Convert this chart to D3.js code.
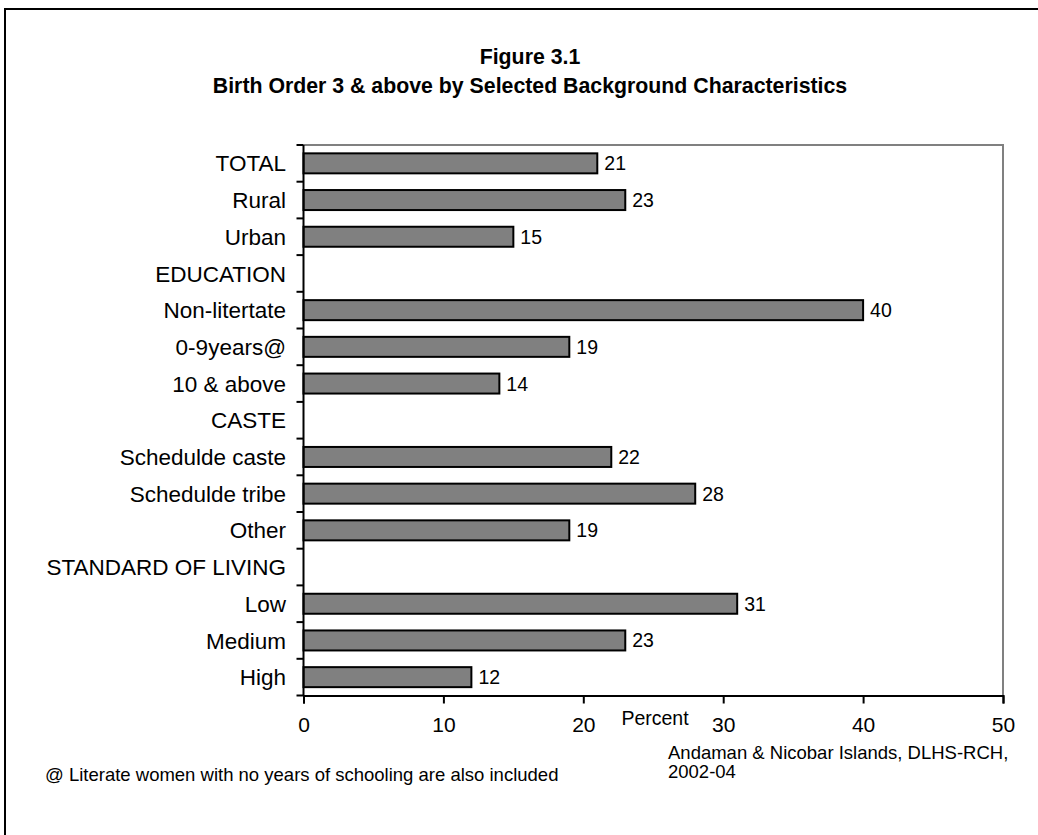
<!DOCTYPE html>
<html>
<head>
<meta charset="utf-8">
<script src="https://cdn.jsdelivr.net/npm/d3@7"></script>
<style>
  html, body { margin: 0; padding: 0; background: #fff; }
  svg { display: block; font-family: "Liberation Sans", Arial, sans-serif; }
</style>
</head>
<body>
<svg id="chart" width="1038" height="835"></svg>
<script>
// Birth order 3 & above, percent, by background characteristic
const categories = [
  "TOTAL", "Rural", "Urban",
  "EDUCATION", "Non-litertate", "0-9years@", "10 & above",
  "CASTE", "Schedulde caste", "Schedulde tribe", "Other",
  "STANDARD OF LIVING", "Low", "Medium", "High"
];
// null marks a group heading row (no bar)
const values = [21, 23, 15, null, 40, 19, 14, null, 22, 28, 19, null, 31, 23, 12];
const xTicks = [0, 10, 20, 30, 40, 50];

const titleLines = ["Figure 3.1", "Birth Order 3 & above by Selected Background Characteristics"];
const xAxisTitle = "Percent";
const sourceLines = ["Andaman & Nicobar Islands, DLHS-RCH,", "2002-04"];
const footnote = "@ Literate women with no years of schooling are also included";

const svg = d3.select("#chart");

// outer chart frame
svg.append("rect")
  .attr("x", 5).attr("y", 9)
  .attr("width", 1100).attr("height", 1000)
  .attr("fill", "#fff").attr("stroke", "#000").attr("stroke-width", 2);

const plot = { left: 303.5, right: 1003, top: 145, bottom: 695.5 };

const x = d3.scaleLinear().domain([0, 50]).range([plot.left, plot.right]);
const y = d3.scaleBand().domain(categories).range([plot.top, plot.bottom]).paddingInner(0).paddingOuter(0);

// plot area border (top and right sides in grey)
svg.append("path")
  .attr("d", `M${plot.left},${plot.top}H${plot.right}V${plot.bottom}`)
  .attr("fill", "none").attr("stroke", "#808080").attr("stroke-width", 2);

// bars
const barH = 20;
const rows = categories.map((c, i) => ({ c, v: values[i] })).filter(d => d.v !== null);
svg.append("g").selectAll("rect").data(rows).join("rect")
  .attr("x", x(0))
  .attr("y", d => y(d.c) + y.bandwidth() / 2 - barH / 2)
  .attr("width", d => x(d.v) - x(0))
  .attr("height", barH)
  .attr("fill", "#808080")
  .attr("stroke", "#000")
  .attr("stroke-width", 2);

// value labels
svg.append("g").selectAll("text").data(rows).join("text")
  .attr("x", d => x(d.v) + 7)
  .attr("y", d => y(d.c) + y.bandwidth() / 2)
  .attr("dy", "0.36em")
  .attr("font-size", 19.5)
  .attr("fill", "#000")
  .text(d => d.v);

// category axis: ticks at band boundaries, labels centred in bands
const gy = svg.append("g");
gy.append("line")
  .attr("x1", plot.left).attr("x2", plot.left)
  .attr("y1", plot.top).attr("y2", plot.bottom)
  .attr("stroke", "#000").attr("stroke-width", 2);
const boundaries = categories.map(c => y(c)).concat([plot.bottom]);
gy.selectAll("line.tk").data(boundaries).join("line")
  .attr("class", "tk")
  .attr("x1", plot.left - 7).attr("x2", plot.left)
  .attr("y1", d => d).attr("y2", d => d)
  .attr("stroke", "#000").attr("stroke-width", 2);
gy.selectAll("text").data(categories).join("text")
  .attr("x", 286)
  .attr("y", d => y(d) + y.bandwidth() / 2)
  .attr("dy", "0.36em")
  .attr("text-anchor", "end")
  .attr("font-size", 22.5)
  .attr("fill", "#000")
  .text(d => d);

// value axis
const gx = svg.append("g").attr("transform", `translate(0,${plot.bottom})`)
  .call(d3.axisBottom(x).tickValues(xTicks).tickSize(8).tickPadding(14).tickFormat(d3.format("d")));
gx.select(".domain").attr("stroke", "#000").attr("stroke-width", 2);
gx.selectAll(".tick line").attr("stroke", "#000").attr("stroke-width", 2);
gx.selectAll(".tick text")
  .attr("font-size", 21)
  .attr("font-family", "\"Liberation Sans\", Arial, sans-serif")
  .attr("fill", "#000");

svg.append("text")
  .attr("x", 655).attr("y", 725)
  .attr("text-anchor", "middle")
  .attr("font-size", 19.5)
  .text(xAxisTitle);

// titles
svg.append("g").selectAll("text").data(titleLines).join("text")
  .attr("x", 530)
  .attr("y", (d, i) => 64 + i * 29)
  .attr("text-anchor", "middle")
  .attr("font-size", 21.3)
  .attr("font-weight", "bold")
  .text(d => d);

// source note
svg.append("g").selectAll("text").data(sourceLines).join("text")
  .attr("x", 668)
  .attr("y", (d, i) => 759 + i * 19)
  .attr("font-size", 18.5)
  .text(d => d);

// footnote
svg.append("text")
  .attr("x", 45).attr("y", 781)
  .attr("font-size", 18.5)
  .text(footnote);
</script>
</body>
</html>
